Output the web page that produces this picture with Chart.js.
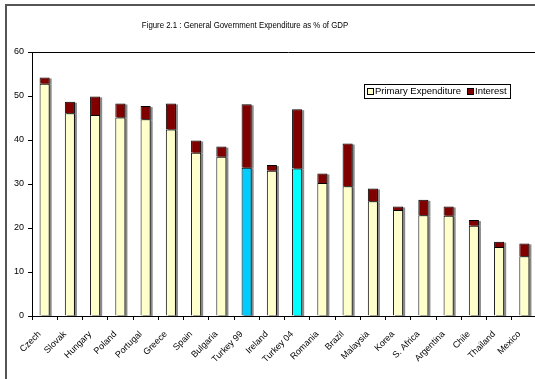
<!DOCTYPE html>
<html>
<head>
<meta charset="utf-8">
<script src="https://cdn.jsdelivr.net/npm/chart.js@4.4.0/dist/chart.umd.min.js"></script>
<style>
  html, body { margin: 0; padding: 0; background: #fff; overflow: hidden; }
</style>
</head>
<body>
<canvas id="govExp" width="545" height="379"></canvas>
<script>
// data
const countries = ["Czech", "Slovak", "Hungary", "Poland", "Portugal", "Greece", "Spain", "Bulgaria",
  "Turkey 99", "Ireland", "Turkey 04", "Romania", "Brazil", "Malaysia", "Korea", "S. Africa",
  "Argentina", "Chile", "Thailand", "Mexico"];
const primaryExp = [52.8, 46.1, 45.7, 45.1, 44.7, 42.4, 37.1, 36.2, 33.7, 33.0,
  33.5, 30.2, 29.5, 26.1, 24.1, 22.9, 22.8, 20.5, 15.7, 13.6];
const interest = [1.4, 2.6, 4.2, 3.2, 3.0, 5.9, 2.8, 2.3, 14.4, 1.3,
  13.5, 2.2, 9.7, 2.9, 0.8, 3.5, 2.1, 1.3, 1.2, 2.9];
const yTicks = [0, 10, 20, 30, 40, 50, 60];

const titleText = "Figure 2.1 : General Government Expenditure as % of GDP";
const font = "'Liberation Sans', Arial, sans-serif";

// Turkey bars are highlighted
const primaryColors = countries.map((c) => {
  if (c === "Turkey 99") return "#00CCFF";
  if (c === "Turkey 04") return "#00FFFF";
  return "#FFFFCC";
});

// frame, title, top border and legend
const decorPlugin = {
  id: "decor",
  beforeDraw(chart) {
    const ctx = chart.ctx;
    ctx.save();
    ctx.fillStyle = "#fff";
    ctx.fillRect(0, 0, chart.width, chart.height);
    ctx.strokeStyle = "#555";
    ctx.lineWidth = 2;
    ctx.beginPath();
    ctx.moveTo(6, chart.height);
    ctx.lineTo(6, 5);
    ctx.lineTo(chart.width, 5);
    ctx.stroke();
    // slightly narrow title, as in the original
    ctx.fillStyle = "#000";
    ctx.font = "9px " + font;
    ctx.textAlign = "center";
    ctx.textBaseline = "middle";
    ctx.translate(245, 26);
    ctx.scale(0.87, 1);
    ctx.fillText(titleText, 0, 0);
    ctx.restore();
  },
  beforeDatasetsDraw(chart) {
    // gray drop shadow on the right of each bar
    const ctx = chart.ctx;
    const a = chart.chartArea;
    ctx.save();
    ctx.beginPath();
    ctx.rect(a.left, a.top, a.right - a.left, a.bottom - a.top);
    ctx.clip();
    ctx.fillStyle = "#8a8a8a";
    chart.data.datasets.forEach((ds, i) => {
      chart.getDatasetMeta(i).data.forEach((bar) => {
        const top = Math.min(bar.y, bar.base);
        const h = Math.abs(bar.base - bar.y);
        ctx.fillRect(bar.x - bar.width / 2 + 2, top + 1, bar.width, h);
      });
    });
    ctx.restore();
  },
  afterDraw(chart) {
    const ctx = chart.ctx;
    const a = chart.chartArea;
    ctx.save();
    ctx.strokeStyle = "#000";
    ctx.lineWidth = 1;
    ctx.beginPath();
    ctx.moveTo(a.left, a.top + 0.5);
    ctx.lineTo(chart.width, a.top + 0.5);
    ctx.stroke();

    // legend box
    const lx = 364, ly = 84, lw = 146, lh = 14;
    ctx.fillStyle = "#fff";
    ctx.fillRect(lx, ly, lw, lh);
    ctx.strokeRect(lx + 0.5, ly + 0.5, lw, lh);
    ctx.font = "9.5px " + font;
    ctx.textBaseline = "middle";
    ctx.textAlign = "left";
    const items = [
      { x: 367, color: "#FFFFCC", label: chart.data.datasets[0].label },
      { x: 467, color: "#800000", label: chart.data.datasets[1].label }
    ];
    items.forEach((it) => {
      ctx.fillStyle = it.color;
      ctx.fillRect(it.x, ly + 4, 6, 6);
      ctx.strokeRect(it.x + 0.5, ly + 4.5, 6, 6);
      ctx.fillStyle = "#000";
      ctx.fillText(it.label, it.x + 8, ly + 7.5);
    });
    ctx.restore();
  }
};

const dataConfig = {
  labels: countries,
  datasets: [
    {
      label: "Primary Expenditure",
      data: primaryExp,
      backgroundColor: primaryColors,
      borderColor: "#000",
      borderWidth: 1,
      borderSkipped: "start"
    },
    {
      label: "Interest",
      data: interest,
      backgroundColor: "#800000",
      borderColor: "#000",
      borderWidth: 1,
      borderSkipped: "start"
    }
  ]
};

const config = {
  type: "bar",
  data: dataConfig,
  options: {
    responsive: false,
    animation: false,
    datasets: { bar: { barPercentage: 0.4, categoryPercentage: 1 } },
    layout: { padding: { top: 52, right: 8, left: 0, bottom: 0 } },
    plugins: { legend: { display: false }, title: { display: false }, tooltip: { enabled: false } },
    scales: {
      x: {
        stacked: true,
        grid: { offset: true, drawOnChartArea: false, tickLength: 4, color: "#000" },
        border: { color: "#000" },
        ticks: {
          autoSkip: false,
          maxRotation: 45,
          minRotation: 45,
          labelOffset: -5,
          padding: 9,
          color: "#000",
          font: { family: font, size: 9 }
        },
        afterFit(scale) { scale.height = 63; }
      },
      y: {
        stacked: true,
        min: 0,
        max: 60,
        afterBuildTicks(scale) { scale.ticks = yTicks.map((v) => ({ value: v })); },
        grid: { drawOnChartArea: false, tickLength: 4, color: "#000" },
        border: { color: "#000" },
        ticks: { padding: 4, color: "#000", font: { family: font, size: 9 } },
        afterFit(scale) { scale.width = 32; }
      }
    }
  },
  plugins: [decorPlugin]
};

const govExpChart = new Chart(document.getElementById("govExp"), config);
</script>
</body>
</html>
